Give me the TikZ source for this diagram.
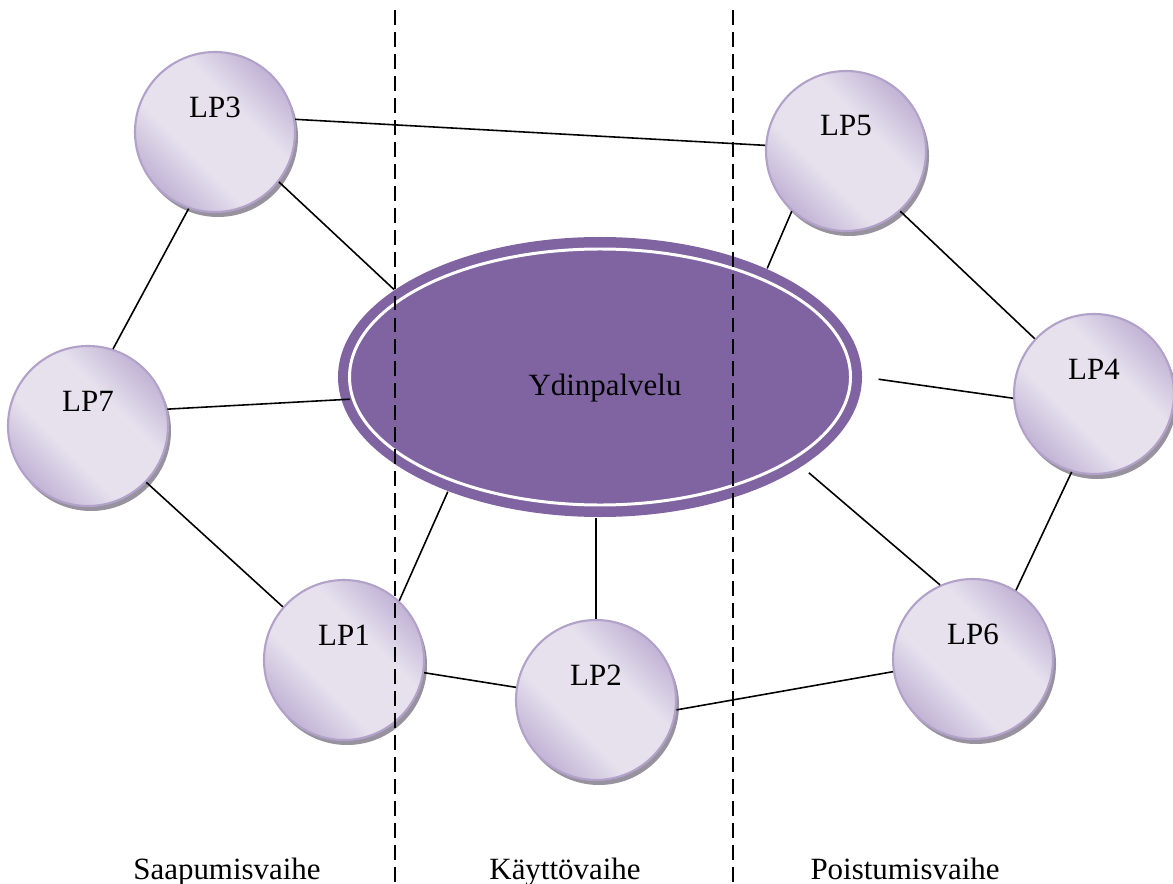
\documentclass[tikz,border=0pt]{standalone}
\usepackage{fontspec}
\setmainfont{Liberation Serif}
\usetikzlibrary{shapes.geometric}
\usetikzlibrary{shadows}
\definecolor{corepurple}{HTML}{8064A2}
\definecolor{lplight}{HTML}{E7E1EE}
\definecolor{lpdark}{HTML}{B4A4CC}
\definecolor{lpedge}{HTML}{B2A1C9}
\pgfdeclareverticalshading{lpshade}{100bp}{color(0bp)=(lpdark); color(20bp)=(lpdark); color(40bp)=(lplight); color(60bp)=(lplight); color(80bp)=(lpdark); color(100bp)=(lpdark)}
\tikzset{
    lpball/.style={
        circle, minimum size=1.6cm, inner sep=0pt,
        draw=lpedge, line width=0.6pt,
        shading=lpshade, shading angle=-45,
        drop shadow={shadow xshift=0.03cm, shadow yshift=-0.05cm, fill=black!55!lpdark, opacity=0.6},
    },
    lplabel/.style={yshift=0.25cm},
    core/.style={
        ellipse, minimum width=5.24cm, minimum height=2.8cm, inner sep=0pt,
        fill=corepurple,
        path picture={
            \draw[white, line width=0.85pt] (path picture bounding box.center) ellipse [x radius=2.505cm, y radius=1.28cm];
        },
    },
    link/.style={line width=0.45pt},
    phaseline/.style={dashed, dash pattern=on 4.25pt off 2pt, line width=0.5pt},
}

\begin{document}
\begin{tikzpicture}[font=\fontsize{8.8}{10.5}\selectfont]
    \useasboundingbox (0,0) rectangle (11.73,8.83);
    \node[core, label={[xshift=0.05cm, yshift=-0.115cm]center:Ydinpalvelu}] (core) at (6.00,5.06) {};

    \node[lpball, label={[lplabel]center:LP3}] (lp3) at (2.15,7.51) {};
    \node[lpball, label={[lplabel]center:LP5}] (lp5) at (8.46,7.32) {};
    \node[lpball, label={[lplabel]center:LP7}] (lp7) at (0.88,4.57) {};
    \node[lpball, label={[lplabel]center:LP4}] (lp4) at (10.94,4.89) {};
    \node[lpball, label={[lplabel]center:LP1}] (lp1) at (3.44,2.23) {};
    \node[lpball, label={[lplabel]center:LP2}] (lp2) at (5.96,1.83) {};
    \node[lpball, label={[lplabel]center:LP6}] (lp6) at (9.73,2.24) {};

    \draw[link] (lp3.9) -- (lp5.176);
    \draw[link] (lp3.-38) -- (core.157);
    \draw[link] (lp3.251) -- (lp7.72);
    \draw[link, shorten >=-0.09cm] (lp7.12) -- (core.185);
    \draw[link] (lp7.-44) -- (lp1.139);
    \draw[link] (lp1.47) -- (core.217);
    \draw[link] (lp1.-9) -- (lp2.171);
    \draw[link] (lp2.north) -- (lp2.north |- core.south);
    \draw[link] (lp2.-7) -- (lp6.189);
    \draw[link, shorten >=0.09cm] (lp6.114) -- (core.-24);
    \draw[link] (lp6.58) -- (lp4.254);
    \draw[link, shorten >=0.16cm] (lp4.183) -- (core.east);
    \draw[link] (lp4.137) -- (lp5.-48);
    \draw[link] (lp5.228) -- (core.33);

    \draw[phaseline] (3.95,8.73) -- (3.95,0);
    \draw[phaseline] (7.33,8.73) -- (7.33,0);

    \node[anchor=base] (saap) at (2.27,0.04) {Saapumisvaihe};
    \node[anchor=base] (kaytto) at (5.65,0.04) {Käyttövaihe};
    \node[anchor=base] (poist) at (9.05,0.04) {Poistumisvaihe};
\end{tikzpicture}
\end{document}
